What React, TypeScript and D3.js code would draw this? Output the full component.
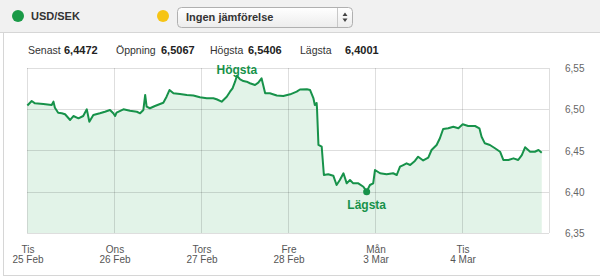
import React from "react";
import * as d3 from "d3";

// trading hours since Tue 25 Feb 00:00 (weekend skipped)
const hours = [
  0.1, 1.3, 2.2, 4.5, 6.8, 7.3, 7.7, 8.6, 9.6, 10.5, 11.9, 12.8, 14.2, 15.5, 16.5, 17.2, 18.3, 20.1, 21.5, 22.9,
  23.8, 24.3, 24.7, 26.6, 28.4, 30.3, 31.2, 32.1, 32.6, 33.0, 33.9, 35.3, 36.7, 37.6, 38.5, 39.3, 40.4, 42.2, 44.1, 45.9,
  47.7, 49.6, 51.4, 52.3, 53.7, 55.1, 56.0, 56.7, 57.4, 57.9, 58.8, 59.7, 60.6, 61.5, 62.9, 63.8, 64.7, 65.7, 67.0, 68.9,
  70.7, 72.6, 74.4, 75.3, 77.2, 78.1, 79.0, 79.4, 79.9, 80.0, 80.4, 81.3, 81.9, 83.1, 84.5, 85.4, 86.3, 87.3, 88.2, 89.1,
  90.0, 91.4, 92.8, 93.7, 94.6, 95.5, 96.0, 97.4, 99.2, 101.0, 102.0, 102.9, 103.8, 104.7, 105.7, 107.0, 107.9, 109.3, 110.7, 111.6,
  113.0, 113.9, 114.8, 116.2, 117.6, 119.0, 120.2, 121.7, 123.6, 124.8, 125.4, 126.3, 127.7, 129.1, 130.5, 131.4, 132.8, 134.2, 135.5, 136.5,
  137.4, 138.8, 140.1, 141.1, 142.0,
];
const values = [
  6.5045, 6.51, 6.5072, 6.5064, 6.5052, 6.5092, 6.5019, 6.4958, 6.4951, 6.4939, 6.487, 6.4918, 6.489, 6.4918, 6.4999, 6.4849, 6.493, 6.4951, 6.497, 6.4991,
  6.4951, 6.4918, 6.4958, 6.4999, 6.4982, 6.497, 6.4951, 6.4991, 6.5173, 6.5031, 6.5012, 6.5039, 6.5064, 6.5079, 6.5152, 6.5233, 6.5193, 6.5185, 6.5173, 6.5167,
  6.5145, 6.5133, 6.5133, 6.5121, 6.5092, 6.5152, 6.5213, 6.5254, 6.5334, 6.5406, 6.5363, 6.5342, 6.5334, 6.5315, 6.5294, 6.5322, 6.5375, 6.5193, 6.5193, 6.5167,
  6.5161, 6.5181, 6.5213, 6.5239, 6.5242, 6.5233, 6.5136, 6.5052, 6.5076, 6.5012, 6.4567, 6.4546, 6.4203, 6.4212, 6.4195, 6.4082, 6.4142, 6.4224, 6.4102, 6.4142,
  6.4102, 6.4102, 6.4061, 6.4001, 6.4082, 6.4102, 6.4264, 6.4224, 6.4212, 6.4224, 6.4203, 6.4304, 6.4324, 6.4345, 6.4324, 6.4373, 6.4425, 6.4379, 6.4413, 6.4506,
  6.4567, 6.4648, 6.4761, 6.4769, 6.4788, 6.4769, 6.4818, 6.4797, 6.4797, 6.4769, 6.4667, 6.4587, 6.4567, 6.4527, 6.4485, 6.4385, 6.4385, 6.4405, 6.4385, 6.4445,
  6.4539, 6.4485, 6.4485, 6.4506, 6.4472,
];

const dayNames = ["Tis", "Ons", "Tors", "Fre", "Mån", "Tis"];
const dayDates = ["25 Feb", "26 Feb", "27 Feb", "28 Feb", "3 Mar", "4 Mar"];
const yTicks = [6.35, 6.4, 6.45, 6.5, 6.55];

const statLabels = ["Senast", "Öppning", "Högsta", "Lägsta"];
const statValues = ["6,4472", "6,5067", "6,5406", "6,4001"];

const W = 600;
const H = 276;
const L = 27, R = 549, T = 68, B = 233;
const GREEN = "#17924a";
const FONT = "'Liberation Sans', Arial, Helvetica, sans-serif";

export default function App() {
  const x = d3.scaleLinear().domain([0, 144]).range([L, R]);
  const y = d3.scaleLinear().domain([6.35, 6.55]).range([B, T]);
  const data = hours.map((h, i) => ({ h, v: values[i] }));
  const line = d3.line<{ h: number; v: number }>().x((d) => x(d.h)).y((d) => y(d.v));
  const area = d3
    .area<{ h: number; v: number }>()
    .x((d) => x(d.h))
    .y0(B)
    .y1((d) => y(d.v));
  const maxI = d3.maxIndex(values);
  const minI = d3.minIndex(values);
  const fmt = (v: number) => v.toFixed(2).replace(".", ",");
  const statX = [28, 116, 210, 300];
  const statVX = [64, 161, 248, 345];

  return (
    <svg
      width={W}
      height={H}
      style={{ position: "absolute", left: 0, top: 0, fontFamily: FONT }}
    >
      <defs>
        <linearGradient id="sel" x1="0" y1="0" x2="0" y2="1">
          <stop offset="0" stopColor="#ffffff" />
          <stop offset="1" stopColor="#ececec" />
        </linearGradient>
      </defs>
      <rect x={0} y={0} width={W} height={H} fill="#ffffff" />
      {/* header */}
      <rect x={0} y={0} width={W} height={32} fill="#f1f1f1" />
      <line x1={0} x2={W} y1={32.5} y2={32.5} stroke="#d6d6d6" />
      <line x1={3.5} x2={3.5} y1={32} y2={275} stroke="#d6d6d6" />
      <line x1={3} x2={W} y1={275.5} y2={275.5} stroke="#d6d6d6" />
      <circle cx={18} cy={16} r={6} fill="#1a9a47" />
      <text x={31} y={20} fontSize={11} fontWeight="bold" fill="#333">USD/SEK</text>
      <circle cx={163} cy={16} r={6} fill="#f6c415" />
      <rect x={177.5} y={7.5} width={175} height={20} rx={4} fill="url(#sel)" stroke="#b0b0b0" />
      <line x1={337.5} x2={337.5} y1={8} y2={27} stroke="#c8c8c8" />
      <text x={186} y={21} fontSize={11} fontWeight="bold" fill="#333">Ingen jämförelse</text>
      <path d="M342.5,16 L345,12.5 L347.5,16 Z M342.5,18.5 L345,22 L347.5,18.5 Z" fill="#444" />

      {/* stats */}
      {statLabels.map((s, i) => (
        <g key={s}>
          <text x={statX[i]} y={54} fontSize={10.5} fill="#333">{s}</text>
          <text x={statVX[i]} y={54} fontSize={11} fontWeight="bold" fill="#222">{statValues[i]}</text>
        </g>
      ))}

      {/* plot */}
      <path d={area(data) ?? ""} fill="#e2f3e8" />
      {yTicks.map((t) => (
        <line key={"h" + t} x1={L} x2={R} y1={Math.round(y(t)) + 0.5} y2={Math.round(y(t)) + 0.5} stroke="#000" strokeOpacity={0.13} />
      ))}
      {dayNames.map((d, i) => (
        <line key={"v" + i} x1={Math.round(x(i * 24)) + 0.5} x2={Math.round(x(i * 24)) + 0.5} y1={T} y2={B} stroke="#000" strokeOpacity={0.13} />
      ))}
      <line x1={R + 0.5} x2={R + 0.5} y1={T} y2={B} stroke="#000" strokeOpacity={0.13} />
      <path d={line(data) ?? ""} fill="none" stroke={GREEN} strokeWidth={2} strokeLinejoin="round" />

      <text x={x(hours[maxI])} y={y(values[maxI]) - 2} fontSize={12} fontWeight="bold" fill={GREEN} textAnchor="middle">Högsta</text>
      <circle cx={x(hours[minI])} cy={y(values[minI])} r={3.5} fill={GREEN} />
      <text x={x(hours[minI])} y={y(values[minI]) + 17} fontSize={12} fontWeight="bold" fill={GREEN} textAnchor="middle">Lägsta</text>

      {yTicks.map((t) => (
        <text key={"yl" + t} x={565} y={y(t) + 4} fontSize={10} fill="#666">{fmt(t)}</text>
      ))}
      {dayNames.map((d, i) => (
        <g key={"xl" + i}>
          <text x={x(i * 24) + 1} y={253} fontSize={10} fill="#555" textAnchor="middle">{d}</text>
          <text x={x(i * 24) + 1} y={263} fontSize={10} fill="#555" textAnchor="middle">{dayDates[i]}</text>
        </g>
      ))}
    </svg>
  );
}
